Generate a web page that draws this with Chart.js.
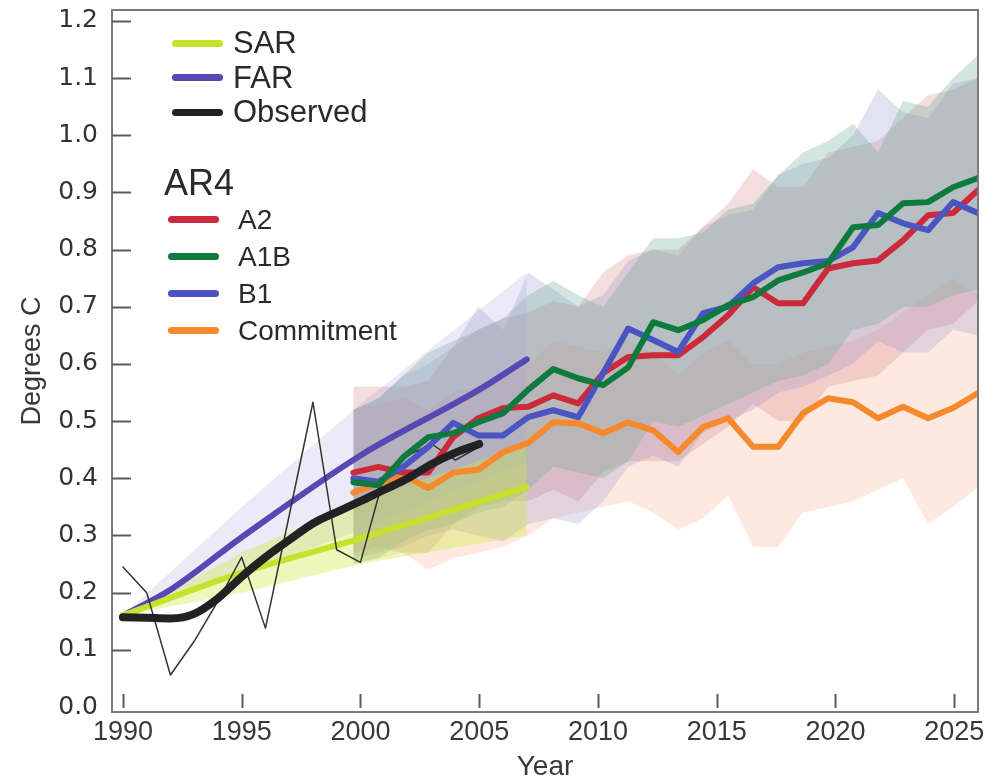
<!DOCTYPE html>
<html>
<head>
<meta charset="utf-8">
<script src="https://cdn.jsdelivr.net/npm/chart.js@4.4.1/dist/chart.umd.min.js"></script>
<style>
    body { margin: 0; background: #fff; }
    #wrap { position: relative; width: 990px; height: 784px; }
    #legend { position: absolute; left: 0; top: 0; font-family: 'Liberation Sans', Arial, sans-serif; color: #2a2a2a; }
    .item { position: absolute; white-space: nowrap; }
    .swatch { position: absolute; height: 7px; border-radius: 4px; }
</style>
</head>
<body>
<div id="wrap">
    <canvas id="chart" width="990" height="784"></canvas>
    <div id="legend"></div>
</div>
<script>
// axis ticks
const xTicks = [1990, 1995, 2000, 2005, 2010, 2015, 2020, 2025];
const yTicks = [0, 0.1, 0.2, 0.3, 0.4, 0.5, 0.6, 0.7, 0.8, 0.9, 1.0, 1.1, 1.2];

// observed
const obsYears = [1990, 1991, 1992, 1993, 1994, 1995, 1996, 1997, 1998, 1999, 2000, 2001, 2002, 2003, 2004, 2005];
const obsSmooth = [0.157, 0.156, 0.155, 0.163, 0.19, 0.228, 0.262, 0.292, 0.321, 0.341, 0.36, 0.38, 0.40, 0.425, 0.445, 0.46];
const obsAnnual = [0.245, 0.20, 0.056, 0.115, 0.185, 0.262, 0.138, 0.335, 0.533, 0.275, 0.253, 0.405, 0.44, 0.46, 0.432, 0.455];

// SAR / FAR projections
const sarYears = [1990, 1995, 2000, 2007];
const sarLine = [0.16, 0.235, 0.295, 0.385];
const sarLow = [0.16, 0.20, 0.25, 0.30];
const sarHigh = [0.16, 0.27, 0.36, 0.46];

const farYears = [1990, 1992, 1995, 2000, 2005, 2007];
const farLine = [0.16, 0.205, 0.297, 0.44, 0.555, 0.608];
const farBandYears = [1990, 1995, 2000, 2007];
const farLow = [0.16, 0.23, 0.31, 0.43];
const farHigh = [0.16, 0.35, 0.53, 0.76];

// AR4 scenarios, one value per year 2000..2025
const ar4Years = [2000, 2001, 2002, 2003, 2004, 2005, 2006, 2007, 2008, 2009, 2010, 2011, 2012,
    2013, 2014, 2015, 2016, 2017, 2018, 2019, 2020, 2021, 2022, 2023, 2024, 2025];
const a2 = [0.41, 0.42, 0.41, 0.41, 0.472, 0.505, 0.523, 0.525, 0.545, 0.531, 0.584, 0.612, 0.615,
    0.615, 0.647, 0.685, 0.734, 0.706, 0.706, 0.767, 0.776, 0.781, 0.816, 0.86, 0.864, 0.904];
const a1b = [0.393, 0.388, 0.437, 0.472, 0.479, 0.498, 0.514, 0.555, 0.591, 0.575, 0.563, 0.594, 0.673,
    0.659, 0.677, 0.703, 0.717, 0.746, 0.76, 0.776, 0.839, 0.843, 0.881, 0.883, 0.909, 0.925];
const b1 = [0.40, 0.394, 0.42, 0.455, 0.497, 0.475, 0.475, 0.507, 0.519, 0.507, 0.584, 0.662, 0.642,
    0.621, 0.689, 0.70, 0.741, 0.769, 0.776, 0.78, 0.804, 0.864, 0.846, 0.834, 0.883, 0.864];
const commit = [0.375, 0.39, 0.405, 0.383, 0.41, 0.415, 0.446, 0.462, 0.498, 0.496, 0.479, 0.498, 0.484,
    0.446, 0.49, 0.505, 0.455, 0.455, 0.514, 0.54, 0.533, 0.505, 0.525, 0.505, 0.523, 0.549];

const a2Low = [0.27, 0.28, 0.27, 0.27, 0.32, 0.35, 0.36, 0.36, 0.38, 0.36, 0.41, 0.43, 0.43,
    0.43, 0.46, 0.49, 0.53, 0.50, 0.50, 0.56, 0.57, 0.58, 0.62, 0.66, 0.67, 0.71];
const a2High = [0.56, 0.56, 0.56, 0.57, 0.63, 0.66, 0.68, 0.69, 0.71, 0.70, 0.76, 0.79, 0.80,
    0.80, 0.84, 0.88, 0.94, 0.91, 0.91, 0.97, 0.98, 0.99, 1.03, 1.07, 1.08, 1.10];
const a1bLow = [0.25, 0.26, 0.29, 0.31, 0.32, 0.34, 0.35, 0.38, 0.42, 0.41, 0.40, 0.43, 0.50,
    0.49, 0.51, 0.53, 0.55, 0.57, 0.58, 0.60, 0.66, 0.67, 0.70, 0.70, 0.72, 0.73];
const a1bHigh = [0.52, 0.54, 0.58, 0.62, 0.64, 0.66, 0.68, 0.72, 0.745, 0.72, 0.70, 0.76, 0.82,
    0.82, 0.83, 0.87, 0.88, 0.93, 0.97, 0.99, 1.02, 0.97, 1.06, 1.05, 1.10, 1.14];
const b1Low = [0.26, 0.27, 0.28, 0.30, 0.31, 0.30, 0.29, 0.32, 0.33, 0.32, 0.36, 0.42, 0.44,
    0.42, 0.48, 0.50, 0.52, 0.55, 0.56, 0.58, 0.60, 0.64, 0.62, 0.62, 0.66, 0.65];
const b1High = [0.52, 0.54, 0.58, 0.60, 0.63, 0.70, 0.66, 0.76, 0.73, 0.70, 0.72, 0.78, 0.80,
    0.79, 0.84, 0.86, 0.87, 0.93, 0.95, 0.96, 1.00, 1.08, 1.04, 1.03, 1.09, 1.10];
const commitLow = [0.25, 0.26, 0.27, 0.24, 0.26, 0.27, 0.28, 0.30, 0.33, 0.34, 0.35, 0.36, 0.34,
    0.31, 0.33, 0.37, 0.28, 0.28, 0.34, 0.35, 0.36, 0.38, 0.40, 0.32, 0.35, 0.385];
const commitHigh = [0.52, 0.53, 0.54, 0.52, 0.55, 0.56, 0.58, 0.60, 0.64, 0.63, 0.62, 0.64, 0.62,
    0.58, 0.62, 0.64, 0.60, 0.60, 0.62, 0.63, 0.64, 0.66, 0.69, 0.72, 0.75, 0.72];

const colors = {
    SAR: '#c6e22c',
    FAR: '#5848b4',
    Observed: '#222222',
    A2: '#cc2a3a',
    A1B: '#0e7a3e',
    B1: '#4a54c2',
    Commitment: '#f5892c'
};

// the AR4 runs are drawn a little stretched in the source figure (start just before 2000, end at the frame)
function ar4Pos(year) {
    return 1999.7 + (year - 2000) * 1.052;
}

function pts(xs, ys) {
    return xs.map((x, i) => ({ x: x, y: ys[i] }));
}

const datasets = [];

function addLine(label, xs, ys, color, width, order, extra) {
    datasets.push(Object.assign({
        label: label,
        data: pts(xs, ys),
        borderColor: color,
        borderWidth: width,
        pointRadius: 0,
        fill: false,
        tension: 0,
        borderCapStyle: 'round',
        borderJoinStyle: 'round',
        order: order
    }, extra || {}));
}

function addBand(xs, low, high, color, order) {
    const lowIndex = datasets.length;
    datasets.push({
        data: pts(xs, low), borderWidth: 0, pointRadius: 0, fill: false, order: order
    });
    datasets.push({
        data: pts(xs, high), borderWidth: 0, pointRadius: 0,
        fill: { target: lowIndex }, backgroundColor: color, order: order
    });
}

const ar4X = ar4Years.map(ar4Pos);

addBand(ar4X, commitLow, commitHigh, 'rgba(250,175,140,0.27)', 20);
addBand(ar4X, a2Low, a2High, 'rgba(210,125,125,0.26)', 19);
addBand(ar4X, b1Low, b1High, 'rgba(140,140,200,0.25)', 18);
addBand(ar4X, a1bLow, a1bHigh, 'rgba(110,170,150,0.30)', 17);
addBand(farBandYears, farLow, farHigh, 'rgba(160,150,210,0.20)', 16);
addBand(sarYears, sarLow, sarHigh, 'rgba(205,235,60,0.35)', 15);

addLine('FAR', farYears, farLine, colors.FAR, 6, 10, { cubicInterpolationMode: 'monotone' });
addLine('SAR', sarYears, sarLine, colors.SAR, 6, 9, { cubicInterpolationMode: 'monotone' });
addLine('Observed annual', obsYears, obsAnnual, '#333333', 1.5, 8);
addLine('Commitment', ar4X, commit, colors.Commitment, 6, 7);
addLine('A2', ar4X, a2, colors.A2, 6, 6);
addLine('B1', ar4X, b1, colors.B1, 6, 5);
addLine('A1B', ar4X, a1b, colors.A1B, 6, 4);
addLine('Observed', obsYears, obsSmooth, colors.Observed, 8, 1, { cubicInterpolationMode: 'monotone' });

// frame and inward tick marks
const frameTicks = {
    id: 'frameTicks',
    afterDraw(chart) {
        const { ctx, chartArea: a, scales: { x, y } } = chart;
        ctx.save();
        ctx.strokeStyle = '#7a7a7a';
        ctx.lineWidth = 2;
        ctx.strokeRect(a.left, a.top, a.right - a.left, a.bottom - a.top);
        ctx.strokeStyle = '#5a5a5a';
        ctx.beginPath();
        yTicks.forEach(v => {
            if (v === 0) return;
            const py = Math.round(y.getPixelForValue(v)) + 0.5;
            ctx.moveTo(a.left, py);
            ctx.lineTo(a.left + 19, py);
        });
        xTicks.forEach(v => {
            const px = Math.round(x.getPixelForValue(v)) + 0.5;
            ctx.moveTo(px, a.bottom - 4);
            ctx.lineTo(px, a.bottom - 18);
        });
        ctx.stroke();
        ctx.restore();
    }
};

new Chart(document.getElementById('chart').getContext('2d'), {
    type: 'line',
    data: { datasets: datasets },
    options: {
        responsive: false,
        animation: false,
        layout: { padding: { top: 10, right: 12, left: 0, bottom: 0 } },
        plugins: {
            legend: { display: false },
            tooltip: { enabled: false }
        },
        scales: {
            x: {
                type: 'linear',
                min: 1989.54,
                max: 2026.0,
                afterBuildTicks: scale => { scale.ticks = xTicks.map(v => ({ value: v })); },
                afterFit: scale => {
                    scale.height = 72;
                    scale.paddingLeft = 0;
                    scale.paddingRight = 0;
                },
                grid: { display: false, drawTicks: false },
                border: { display: false },
                ticks: {
                    autoSkip: false,
                    maxRotation: 0,
                    padding: 4,
                    color: '#383838',
                    font: { family: 'Liberation Sans', size: 27 },
                    callback: v => String(v)
                },
                title: {
                    display: true,
                    text: 'Year',
                    color: '#383838',
                    font: { family: 'Liberation Sans', size: 28 },
                    padding: { top: 0, bottom: 0 }
                }
            },
            y: {
                type: 'linear',
                min: -0.0087,
                max: 1.219,
                afterBuildTicks: scale => { scale.ticks = yTicks.map(v => ({ value: v })); },
                afterFit: scale => {
                    scale.width = 112;
                    scale.paddingTop = 0;
                    scale.paddingBottom = 0;
                },
                grid: { display: false, drawTicks: false },
                border: { display: false },
                ticks: {
                    padding: 14,
                    color: '#333333',
                    font: { family: 'DejaVu Sans', size: 25 },
                    callback: v => v.toFixed(1)
                },
                title: {
                    display: true,
                    text: 'Degrees C',
                    color: '#383838',
                    font: { family: 'Liberation Sans', size: 27 },
                    padding: { top: 16, bottom: 0 }
                }
            }
        }
    },
    plugins: [frameTicks]
});

// legend drawn inside the plot, as in the figure
const legendTop = ['SAR', 'FAR', 'Observed'];
const legendAr4 = ['A2', 'A1B', 'B1', 'Commitment'];

function legendEntry(parent, label, swLeft, swTop, textLeft, textTop, size) {
    const sw = document.createElement('div');
    sw.className = 'swatch';
    sw.style.left = swLeft + 'px';
    sw.style.top = swTop + 'px';
    sw.style.width = '51px';
    sw.style.background = colors[label];
    parent.appendChild(sw);
    const t = document.createElement('div');
    t.className = 'item';
    t.style.left = textLeft + 'px';
    t.style.top = textTop + 'px';
    t.style.fontSize = size + 'px';
    t.textContent = label;
    parent.appendChild(t);
}

const legendDiv = document.getElementById('legend');
legendTop.forEach((label, i) => {
    const cy = 43 + i * 34.5;
    legendEntry(legendDiv, label, 172, cy - 3.5, 233, cy - 18, 31);
});
const ar4Head = document.createElement('div');
ar4Head.className = 'item';
ar4Head.style.left = '164px';
ar4Head.style.top = '162px';
ar4Head.style.fontSize = '36px';
ar4Head.textContent = 'AR4';
legendDiv.appendChild(ar4Head);
legendAr4.forEach((label, i) => {
    const cy = 219 + i * 37;
    legendEntry(legendDiv, label, 168, cy - 3.5, 238, cy - 15, 28);
});
</script>
</body>
</html>
